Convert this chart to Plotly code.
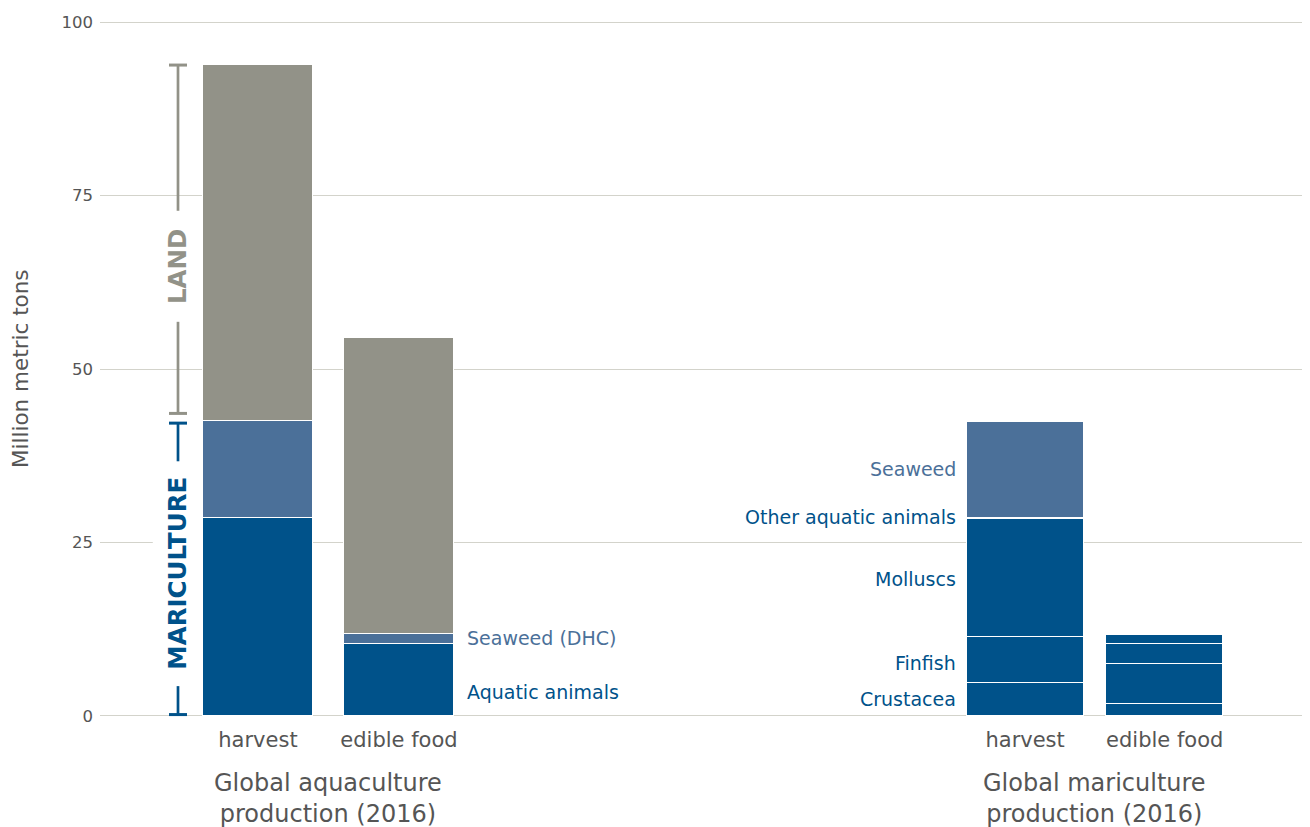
import plotly.graph_objects as go

# ---------------- data ----------------
bar_pos = [0.0, 1.0, 5.44, 6.43]
bar_labels = ["harvest", "edible food", "harvest", "edible food"]
bar_widths = [0.78, 0.78, 0.83, 0.83]

# Global aquaculture production (2016): harvest, edible food
aqua_animals = [28.6, 10.3]
aqua_seaweed = [13.9, 1.45]
aqua_land = [51.3, 42.65]

# Global mariculture production (2016): harvest, edible food
mari_crustacea = [4.76, 1.7]
mari_finfish = [6.64, 5.72]
mari_molluscs = [16.95, 2.88]
mari_other = [0.25, 1.35]
mari_seaweed = [13.8, 0.0]

group_labels = ["Global aquaculture<br>production (2016)", "Global mariculture<br>production (2016)"]
y_ticks = [0, 25, 50, 75, 100]

DARK = "#00528A"
SEA = "#4B7099"
LAND = "#929288"
TXT = "#555555"
GRID = "#d3d3cb"
FONT = "DejaVu Sans"

fig = go.Figure()

def add(xs, ys, ws, color, name):
    fig.add_trace(go.Bar(
        x=xs, y=ys, width=ws, name=name,
        marker=dict(color=color, line=dict(color="white", width=1.5)),
        hoverinfo="name+y",
    ))

# aquaculture bars
add(bar_pos[:2], aqua_animals, bar_widths[:2], DARK, "Aquatic animals")
add(bar_pos[:2], aqua_seaweed, bar_widths[:2], SEA, "Seaweed (DHC)")
add(bar_pos[:2], aqua_land, bar_widths[:2], LAND, "Land")
# mariculture bars
add(bar_pos[2:], mari_crustacea, bar_widths[2:], DARK, "Crustacea")
add(bar_pos[2:], mari_finfish, bar_widths[2:], DARK, "Finfish")
add(bar_pos[2:], mari_molluscs, bar_widths[2:], DARK, "Molluscs")
add(bar_pos[2:], mari_other, bar_widths[2:], DARK, "Other aquatic animals")
add(bar_pos[2:], mari_seaweed, bar_widths[2:], SEA, "Seaweed")

# page has an 8px body margin, so the figure is laid out accordingly
W, H = 1302, 819
L, R, T, B = 92, 0, 13, 110
PW = W - L - R
PH = H - T - B

fig.update_layout(
    width=W, height=H, barmode="stack", showlegend=False,
    paper_bgcolor="white", plot_bgcolor="white",
    margin=dict(l=L, r=R, t=T, b=B),
    font=dict(family=FONT, color=TXT),
    bargap=0,
)
fig.update_xaxes(
    range=[-1.12, 7.46], tickvals=bar_pos, ticktext=bar_labels,
    showgrid=False, zeroline=False, showline=False, ticks="", ticklabelstandoff=8,
    tickfont=dict(size=21, color=TXT, family=FONT),
)
fig.update_yaxes(
    range=[-0.15, 100.15], tickvals=y_ticks, showgrid=True, gridcolor=GRID, gridwidth=1.3,
    zeroline=False, showline=False, ticks="", ticklabelstandoff=6,
    tickfont=dict(size=16.5, color=TXT, family=FONT),
)

# y axis title
fig.add_annotation(text="Million metric tons", xref="paper", yref="paper",
                   x=(20 - 100) / PW, y=0.5, textangle=-90, showarrow=False,
                   font=dict(size=21.5, color=TXT, family=FONT), xanchor="center", yanchor="middle")

# group labels
for i, lab in enumerate(group_labels):
    cx = (bar_pos[2 * i] + bar_pos[2 * i + 1]) / 2
    fig.add_annotation(text=lab, x=cx, xref="x", y=-50 / PH, yref="paper", yanchor="top",
                       xanchor="center", showarrow=False, align="center",
                       font=dict(size=24, color=TXT, family=FONT))

# segment labels, aquaculture edible food bar (left-aligned, to the right)
x_right = bar_pos[1] + bar_widths[1] / 2 + 0.08
fig.add_annotation(text="Seaweed (DHC)", x=x_right, y=aqua_animals[1] + 0.9, xanchor="left",
                   showarrow=False, font=dict(size=19, color=SEA, family=FONT))
fig.add_annotation(text="Aquatic animals", x=x_right, y=aqua_animals[1] * 0.33, xanchor="left",
                   showarrow=False, font=dict(size=19, color=DARK, family=FONT))

# segment labels, mariculture harvest bar (right-aligned, to the left)
x_left = bar_pos[2] - bar_widths[2] / 2 - 0.06
b0 = mari_crustacea[0]
b1 = b0 + mari_finfish[0]
b2 = b1 + mari_molluscs[0]
b3 = b2 + mari_other[0]
b4 = b3 + mari_seaweed[0]
seg_labels = [
    ("Seaweed", b3 + 7.0, SEA),
    ("Other aquatic animals", b3 + 0.1, DARK),
    ("Molluscs", b1 + 8.3, DARK),
    ("Finfish", b0 + 2.9, DARK),
    ("Crustacea", 2.4, DARK),
]
for txt, yv, col in seg_labels:
    fig.add_annotation(text=txt, x=x_left, y=yv, xanchor="right", showarrow=False,
                       font=dict(size=19, color=col, family=FONT))

# brackets
bx = (178 - 100) / PW
cw = 9 / PW
land_top = aqua_animals[0] + aqua_seaweed[0] + aqua_land[0]
mari_top = aqua_animals[0] + aqua_seaweed[0]
land_bot = mari_top + 1.1

def vline(y0, y1, col):
    fig.add_shape(type="line", xref="paper", yref="y", x0=bx, x1=bx, y0=y0, y1=y1,
                  line=dict(color=col, width=2.7))

def cap(y, col):
    fig.add_shape(type="line", xref="paper", yref="y", x0=bx - cw, x1=bx + cw, y0=y, y1=y,
                  line=dict(color=col, width=3))

land_mid = 64.7
vline(land_top, land_mid + 8.1, LAND)
vline(land_mid - 7.9, land_bot, LAND)
cap(land_top, LAND)
cap(land_bot, LAND)
fig.add_annotation(text="<b>LAND</b>", xref="paper", x=bx, y=land_mid, textangle=-90,
                   xanchor="center", yanchor="middle",
                   showarrow=False, font=dict(size=24.5, color=LAND, family=FONT))

mari_mid = 20.5
vline(mari_top - 0.3, mari_mid + 16.2, DARK)
vline(mari_mid - 16.2, 0.2, DARK)
cap(mari_top - 0.3, DARK)
cap(0.2, DARK)
fig.add_annotation(text="<b>MARICULTURE</b>", xref="paper", x=bx, y=mari_mid, textangle=-90,
                   xanchor="center", yanchor="middle",
                   showarrow=False, bgcolor="white", borderpad=10,
                   font=dict(size=24.5, color=DARK, family=FONT))

fig.write_html("out.html")
